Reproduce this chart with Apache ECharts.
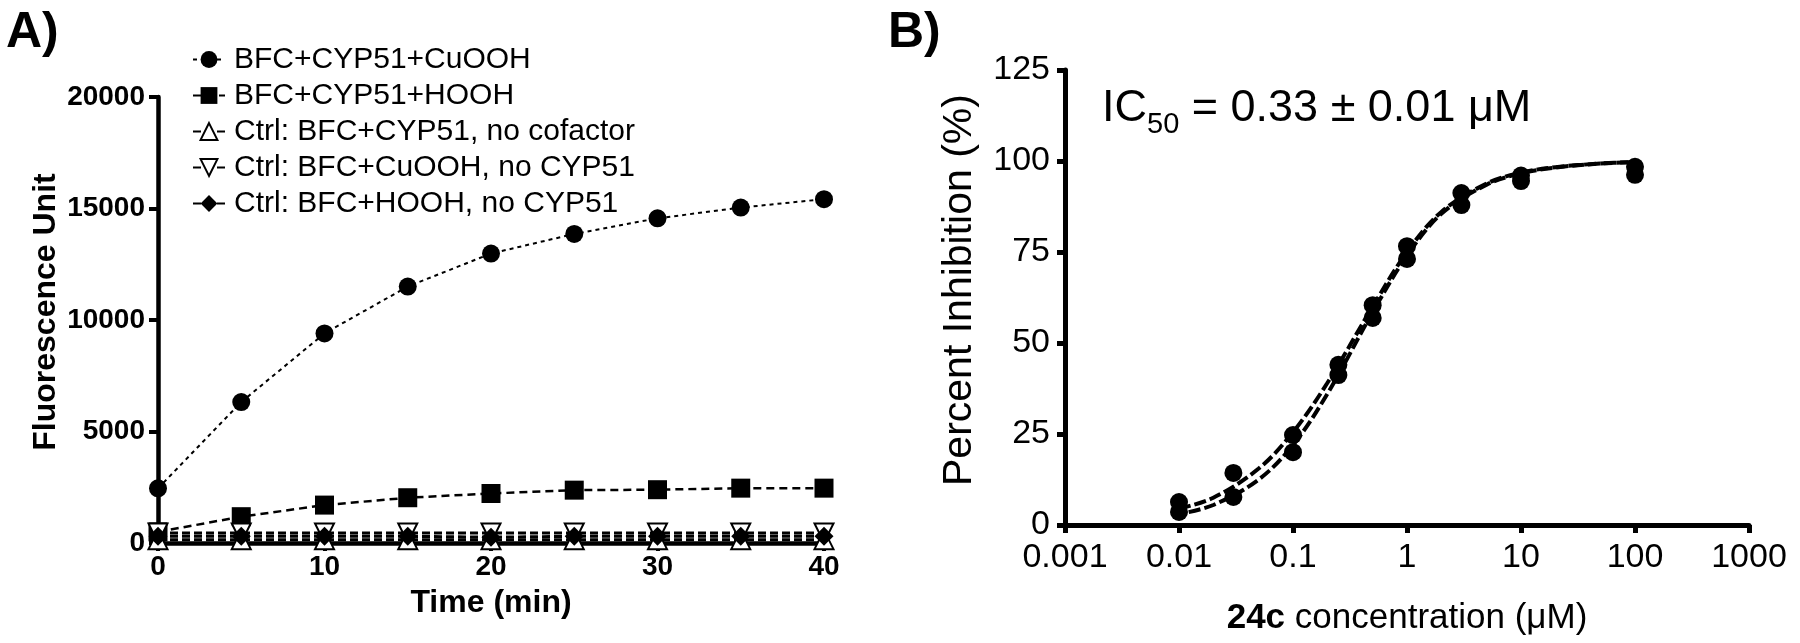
<!DOCTYPE html>
<html><head><meta charset="utf-8">
<script src="https://cdn.jsdelivr.net/npm/echarts@6/dist/echarts.min.js"></script>
<style>html,body{margin:0;padding:0;background:#fff}#c{width:1800px;height:643px}</style>
</head><body><div id="c"></div>
<script>
// ---- Panel A data ----
const timeMin = [0, 5, 10, 15, 20, 25, 30, 35, 40];
const cuoohCyp = [2450, 6320, 9400, 11500, 12980, 13860, 14560, 15040, 15420];
const hoohCyp = [500, 1180, 1700, 2030, 2220, 2370, 2390, 2460, 2460];
const noCofactor = [150, 150, 150, 150, 150, 150, 150, 150, 150];
const cuoohNoCyp = [450, 450, 450, 450, 450, 450, 450, 450, 450];
const hoohNoCyp = [300, 300, 300, 300, 260, 300, 300, 300, 300];
const seriesNamesA = ['BFC+CYP51+CuOOH', 'BFC+CYP51+HOOH', 'Ctrl: BFC+CYP51, no cofactor', 'Ctrl: BFC+CuOOH, no CYP51', 'Ctrl: BFC+HOOH, no CYP51'];
// ---- Panel B data ----
const conc = [0.01, 0.03, 0.1, 0.25, 0.5, 1, 3, 10, 100];
const rep1 = [6.3, 14.3, 24.7, 44.0, 60.4, 76.6, 91.2, 96.0, 98.4];
const rep2 = [3.6, 7.7, 20.0, 41.2, 56.9, 73.1, 87.9, 94.5, 96.2];
const fitConc = [0.01, 0.02, 0.05, 0.1, 0.2, 0.5, 1, 2, 5, 10, 20, 50, 100];
const fit1 = [4.5, 7.5, 15.5, 25.5, 39, 60, 75, 86, 93.8, 96.8, 98.3, 99.3, 99.7];
const fit2 = [3, 5.5, 12.5, 22, 36, 58.5, 74, 85.5, 93.5, 96.6, 98.2, 99.3, 99.7];
const xTickLabelsB = ['0.001', '0.01', '0.1', '1', '10', '100', '1000'];

const FF = '"Liberation Sans", Arial, sans-serif';
const chart = echarts.init(document.getElementById('c'), null, {renderer: 'canvas'});
const pair = (xs, ys) => xs.map((x, i) => [x, ys[i]]);

// measure widths for the IC50 label with subscript
const mctx = document.createElement('canvas').getContext('2d');
mctx.font = '45px ' + FF; const wIC = mctx.measureText('IC').width;
mctx.font = '29px ' + FF; const w50 = mctx.measureText('50').width;
const icLeft = 1102;

function lineA(name, ys, symbol, size, opts) {
  return Object.assign({
    name, type: 'line', xAxisIndex: 0, yAxisIndex: 0,
    data: pair(timeMin, ys), symbol, symbolSize: size,
    itemStyle: {color: '#000', borderColor: '#000', borderWidth: 0},
    lineStyle: {color: '#000', width: 2, type: [5, 4]},
    z: 3
  }, opts || {});
}

const option = {
  backgroundColor: '#fff',
  animation: false,
  textStyle: {fontFamily: FF},
  grid: [
    {left: 158, top: 97, width: 666, height: 446},
    {left: 1065, top: 70, width: 684, height: 455}
  ],
  xAxis: [
    {gridIndex: 0, type: 'value', min: 0, max: 40, interval: 10,
     axisLine: {onZero: false, lineStyle: {color: '#000', width: 4.5}},
     axisTick: {length: 8, lineStyle: {color: '#000', width: 4}},
     axisLabel: {fontSize: 28, fontWeight: 'bold', color: '#000', margin: 10, fontFamily: FF},
     splitLine: {show: false}},
    {gridIndex: 1, type: 'log', logBase: 10, min: 0.001, max: 1000, splitNumber: 6,
     axisLine: {onZero: false, lineStyle: {color: '#000', width: 5}},
     axisTick: {length: 8, lineStyle: {color: '#000', width: 5}},
     minorTick: {show: false},
     axisLabel: {fontSize: 34, color: '#000', margin: 16, fontFamily: FF,
       formatter: v => xTickLabelsB[Math.round(Math.log10(v)) + 3]},
     splitLine: {show: false}}
  ],
  yAxis: [
    {gridIndex: 0, type: 'value', min: 0, max: 20000, interval: 5000,
     axisLine: {onZero: false, lineStyle: {color: '#000', width: 4.5}},
     axisTick: {length: 9, lineStyle: {color: '#000', width: 4}},
     axisLabel: {fontSize: 28, fontWeight: 'bold', color: '#000', margin: 13, fontFamily: FF,
       formatter: v => String(v)},
     splitLine: {show: false}},
    {gridIndex: 1, type: 'value', min: 0, max: 125, interval: 25,
     axisLine: {onZero: false, lineStyle: {color: '#000', width: 5}},
     axisTick: {length: 8, lineStyle: {color: '#000', width: 5}},
     axisLabel: {fontSize: 34, color: '#000', margin: 15, fontFamily: FF},
     splitLine: {show: false}}
  ],
  legend: {
    orient: 'vertical', left: 187, top: 39, itemWidth: 32, itemHeight: 21, itemGap: 5,
    data: seriesNamesA,
    textStyle: {fontSize: 30, color: '#000', lineHeight: 31, fontFamily: FF, padding: [0, 0, 0, 4]}
  },
  graphic: [
    {type: 'text', left: 6, top: 8, style: {text: 'A)', font: 'bold 50px ' + FF, fill: '#000'}},
    {type: 'text', left: 888, top: 8, style: {text: 'B)', font: 'bold 50px ' + FF, fill: '#000'}},
    {type: 'text', x: 46, y: 312, rotation: Math.PI / 2,
     style: {text: 'Fluorescence Unit', font: 'bold 32px ' + FF, fill: '#000', align: 'center', verticalAlign: 'middle'}},
    {type: 'text', x: 491, y: 603,
     style: {text: 'Time (min)', font: 'bold 32px ' + FF, fill: '#000', align: 'center', verticalAlign: 'middle'}},
    {type: 'text', x: 960, y: 290, rotation: Math.PI / 2,
     style: {text: 'Percent Inhibition (%)', font: '41px ' + FF, fill: '#000', align: 'center', verticalAlign: 'middle'}},
    {type: 'text', x: 1407, y: 618,
     style: {text: '{b|24c} concentration (μM)', font: '35px ' + FF, fill: '#000', align: 'center', verticalAlign: 'middle',
       rich: {b: {fontWeight: 'bold', fontSize: 35, fontFamily: FF}}}},
    {type: 'text', x: icLeft, y: 109,
     style: {text: 'IC', font: '45px ' + FF, fill: '#000', align: 'left', verticalAlign: 'middle'}},
    {type: 'text', x: icLeft + wIC, y: 125,
     style: {text: '50', font: '29px ' + FF, fill: '#000', align: 'left', verticalAlign: 'middle'}},
    {type: 'text', x: icLeft + wIC + w50, y: 109,
     style: {text: ' = 0.33 ± 0.01 μM', font: '45px ' + FF, fill: '#000', align: 'left', verticalAlign: 'middle'}}
  ],
  series: [
    lineA(seriesNamesA[0], cuoohCyp, 'circle', 18, {lineStyle: {color: '#000', width: 2, type: [4, 4]}}),
    lineA(seriesNamesA[1], hoohCyp, 'rect', 19, {lineStyle: {color: '#000', width: 2.5, type: [8, 5]}}),
    lineA(seriesNamesA[2], noCofactor, 'triangle', 19, {
      itemStyle: {color: '#fff', borderColor: '#000', borderWidth: 2},
      lineStyle: {color: '#000', width: 3, type: [8, 4]}}),
    lineA(seriesNamesA[3], cuoohNoCyp, 'triangle', 19, {
      symbolRotate: 180,
      itemStyle: {color: '#fff', borderColor: '#000', borderWidth: 2},
      lineStyle: {color: '#000', width: 3, type: [8, 4]}}),
    lineA(seriesNamesA[4], hoohNoCyp, 'diamond', 19, {lineStyle: {color: '#000', width: 3, type: [8, 4]}}),
    {type: 'line', xAxisIndex: 1, yAxisIndex: 1, data: pair(fitConc, fit1), smooth: 0.35,
     showSymbol: false, lineStyle: {color: '#000', width: 4, type: [12, 4]}, z: 2},
    {type: 'line', xAxisIndex: 1, yAxisIndex: 1, data: pair(fitConc, fit2), smooth: 0.35,
     showSymbol: false, lineStyle: {color: '#000', width: 4, type: [12, 4], dashOffset: 6}, z: 2},
    {type: 'scatter', xAxisIndex: 1, yAxisIndex: 1, data: pair(conc, rep1), symbol: 'circle', symbolSize: 18,
     itemStyle: {color: '#000', opacity: 1}, z: 3},
    {type: 'scatter', xAxisIndex: 1, yAxisIndex: 1, data: pair(conc, rep2), symbol: 'circle', symbolSize: 18,
     itemStyle: {color: '#000', opacity: 1}, z: 3}
  ]
};
chart.setOption(option);
</script></body></html>
